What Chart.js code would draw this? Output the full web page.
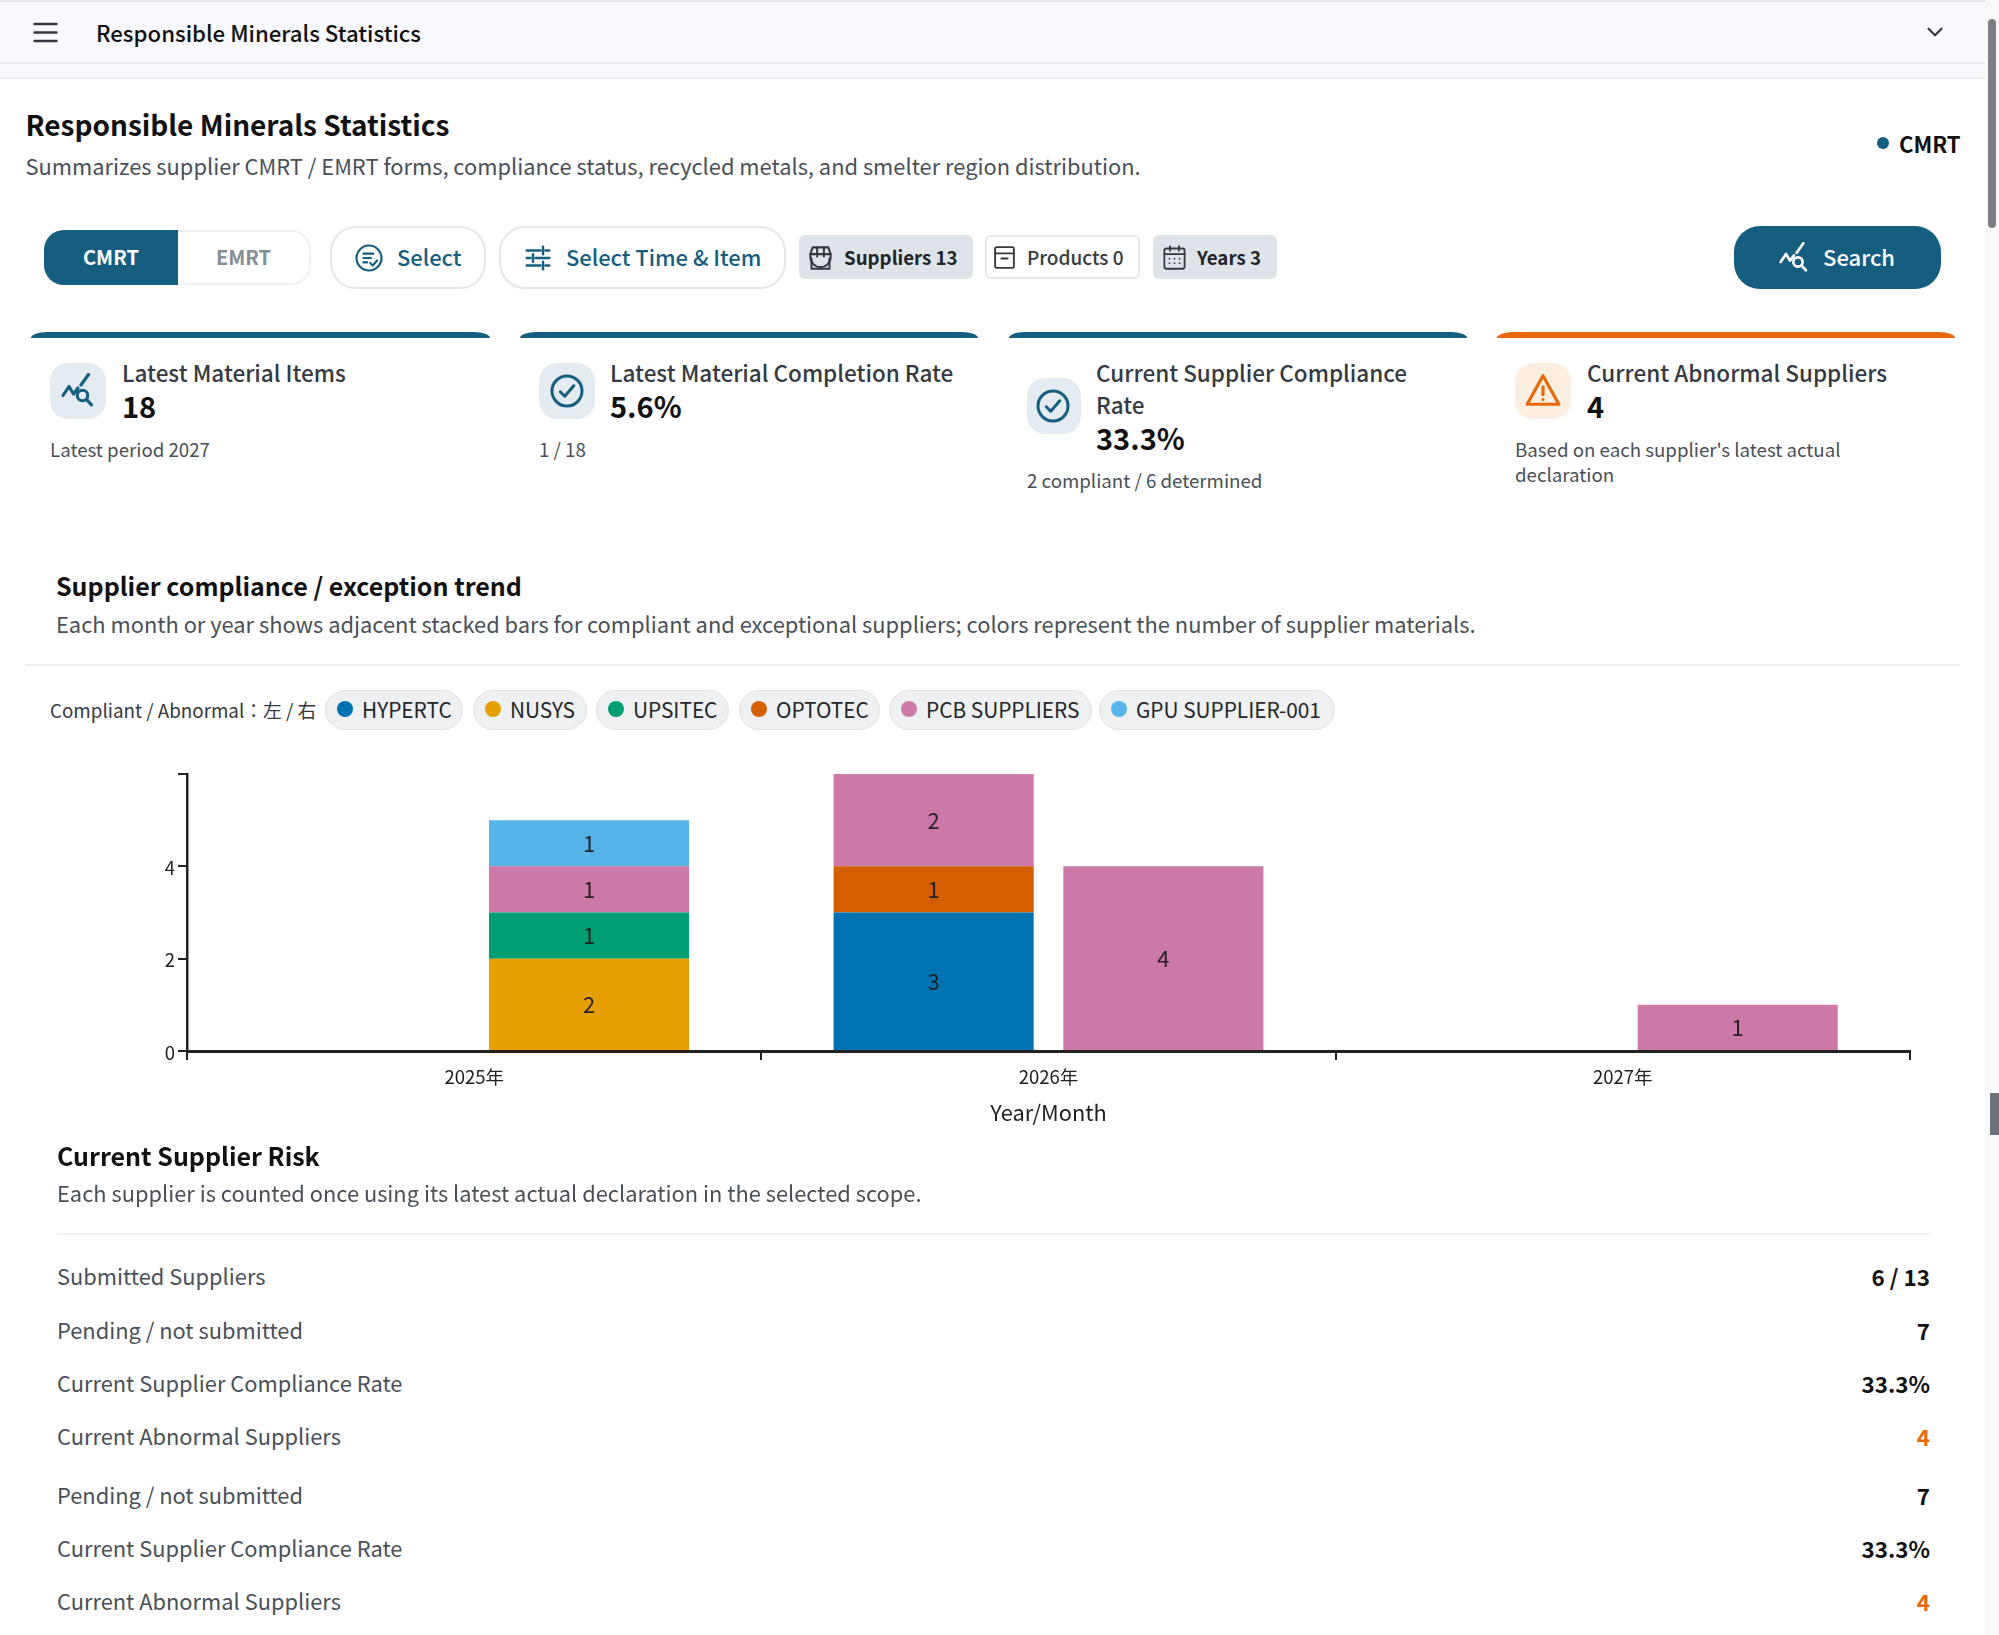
<!DOCTYPE html>
<html>
<head>
<meta charset="utf-8">
<title>Responsible Minerals Statistics</title>
<script src="https://cdn.jsdelivr.net/npm/chart.js@4"></script>
<style>
  html, body { margin: 0; padding: 0; background: #fff; overflow: hidden; }
  body { width: 1999px; height: 1635px; position: relative; font-family: "Noto Sans CJK TC", "Noto Sans", sans-serif; color: #212529; }
  .box { position: absolute; box-sizing: border-box; }
  .t { position: absolute; white-space: nowrap; line-height: 40px; height: 40px; }
  .ic { position: absolute; fill: none; stroke: currentColor; stroke-width: 2; stroke-linecap: round; stroke-linejoin: round; }
  #chartWrap { position: absolute; left: 0; top: 750px; width: 1985px; height: 390px; }
</style>
</head>
<body>
<div id="chartWrap"><canvas id="trend" width="1985" height="390"></canvas></div>
<script>
const years = ["2025年", "2026年", "2027年"];
const suppliers = ["HYPERTC", "NUSYS", "UPSITEC", "OPTOTEC", "PCB SUPPLIERS", "GPU SUPPLIER-001"];
const supplierColors = ["#0072B2", "#E69F00", "#009E73", "#D55E00", "#CC79A7", "#56B4E9"];

// per supplier, per year
const compliant = [
  [null, 3, null],
  [null, null, null],
  [null, null, null],
  [null, 1, null],
  [null, 2, null],
  [null, null, null]
];
const abnormal = [
  [null, null, null],
  [2, null, null],
  [1, null, null],
  [null, null, null],
  [1, 4, 1],
  [1, null, null]
];
const yTickValues = [0, 2, 4];

const riskLabels = ["Submitted Suppliers", "Pending / not submitted", "Current Supplier Compliance Rate", "Current Abnormal Suppliers",
  "Pending / not submitted", "Current Supplier Compliance Rate", "Current Abnormal Suppliers"];
const riskValues = ["6 / 13", "7", "33.3%", "4", "7", "33.3%", "4"];
const riskRowsY = [1276, 1329.5, 1382.5, 1435.5, 1494.5, 1548, 1601];

const TEAL = "#155e80";
const ORANGE = "#e8690b";
const BODY = 21.85;

function box(x, y, w, h, css) {
  const d = document.createElement("div");
  d.className = "box";
  d.style.cssText = `left:${x}px;top:${y}px;width:${w}px;height:${h}px;${css || ""}`;
  document.body.appendChild(d);
  return d;
}

// cy = vertical centre of the line
function text(x, cy, str, size, weight, color, align) {
  const d = document.createElement("div");
  d.className = "t";
  d.textContent = str;
  d.style.cssText = `top:${cy - 20}px;font-size:${size}px;font-weight:${weight};color:${color};`;
  if (align === "right") d.style.right = (1999 - x) + "px";
  else d.style.left = x + "px";
  document.body.appendChild(d);
}

function icon(cx, cy, size, color, body, sw) {
  const s = `<svg class="ic" style="left:${cx - size / 2}px;top:${cy - size / 2}px;color:${color};stroke-width:${sw || 2}" width="${size}" height="${size}" viewBox="0 0 24 24">${body}</svg>`;
  document.body.insertAdjacentHTML("beforeend", s);
}

const icons = {
  menu: '<path d="M3 5h18M3 12h18M3 19h18"/>',
  chevron: '<path d="M6 9l6 6 6-6"/>',
  chartSearch: '<path d="M2 15l4-6 3 5 3-4"/><path d="M14 8l5-7"/><circle cx="15" cy="15" r="3.5"/><path d="M17.6 17.6l3.4 3.6"/>',
  check: '<circle cx="12" cy="12" r="10"/><path d="M7.5 12.5l3 3 6-7"/>',
  warn: '<path d="M12 3L2 21h20z"/><path d="M12 10v5M12 18v.01"/>',
  select: '<circle cx="12" cy="12" r="10"/><path d="M7.5 8.5h8M7.5 12h6M7.5 15.5h3"/><path d="M13 16l2 2 3.5-4"/>',
  sliders: '<path d="M3 6h11M18 6h3M3 12h3M10 12h11M3 18h11M18 18h3"/><path d="M16 3v6M8 9v6M16 15v6"/>',
  store: '<path d="M3 9l2-6h14l2 6"/><path d="M3 9h18v2.5a3 3 0 0 1-18 0z"/><path d="M4 13v9h16v-9"/><path d="M9 3v8M15 3v8"/>',
  archive: '<rect x="3" y="2" width="18" height="20" rx="1.5"/><path d="M3 8h18"/><path d="M9 13h6"/>',
  calendar: '<rect x="3" y="4" width="18" height="18" rx="2"/><path d="M3 9h18M8 2v4M16 2v4"/><path d="M7.5 13v.01M12 13v.01M16.5 13v.01M7.5 17v.01M12 17v.01M16.5 17v.01"/>'
};

// header
box(0, 0, 1985, 64, "background:#f8f9fc;border-top:2px solid #e6e8eb;border-bottom:2px solid #e9ebee;");
box(0, 64, 1985, 15, "background:#f8f9fc;border-bottom:2px solid #eceef0;");
icon(45, 32.5, 29, "#343a40", icons.menu, 2.2);
text(96, 32, "Responsible Minerals Statistics", 22.2, 500, "#111");
icon(1935, 32, 26, "#343a40", icons.chevron, 2);

// page title
text(25.5, 124, "Responsible Minerals Statistics", 28, 600, "#111");
text(25.5, 166, "Summarizes supplier CMRT / EMRT forms, compliance status, recycled metals, and smelter region distribution.", BODY, 400, "#495057");
box(1877, 137, 12, 12, `background:${TEAL};border-radius:50%;`);
text(1899, 143, "CMRT", 22, 600, "#111");

// toolbar
box(44, 230, 267, 55, "background:#fff;border:2px solid #eef0f2;border-radius:20px;");
box(44, 230, 134, 55, `background:${TEAL};border-radius:20px 0 0 20px;`);
text(83, 257, "CMRT", 20, 600, "#fff");
text(216, 257, "EMRT", 20, 600, "#868e96");
box(330, 226, 156, 63, "background:#fff;border:2px solid #e5e7ea;border-radius:26px;");
icon(369, 257.5, 30, TEAL, icons.select, 1.7);
text(397, 257, "Select", 21.9, 500, TEAL);
box(499, 226, 287, 63, "background:#fff;border:2px solid #e5e7ea;border-radius:26px;");
icon(538, 257.5, 30, TEAL, icons.sliders, 2);
text(566, 257, "Select Time & Item", 21.9, 500, TEAL);
box(799, 235, 174, 44, "background:#dee4ea;border-radius:6px;");
icon(820, 257, 27, "#343a40", icons.store, 1.8);
text(844, 257, "Suppliers 13", 18.7, 600, "#212529");
box(985, 235, 155, 44, "background:#fff;border:2px solid #e5e7ea;border-radius:6px;");
icon(1004, 257.5, 25, "#343a40", icons.archive, 1.8);
text(1027, 257, "Products 0", 19, 500, "#343a40");
box(1153, 235, 124, 44, "background:#dee4ea;border-radius:6px;");
icon(1174, 257, 27, "#343a40", icons.calendar, 1.6);
text(1197, 257, "Years 3", 18.7, 600, "#212529");
box(1734, 226, 207, 63, `background:${TEAL};border-radius:26px;`);
icon(1794, 258, 32, "#fff", icons.chartSearch, 2);
text(1823, 256, "Search", 22, 500, "#fff");

// stat cards
const cardBars = [[30.5, 459, TEAL], [519.5, 458, TEAL], [1008.5, 458, TEAL], [1496.5, 458, ORANGE]];
cardBars.forEach(c => box(c[0], 332, c[1], 6, `background:${c[2]};border-radius:16px 16px 0 0 / 6px 6px 0 0;`));

box(50, 363, 56, 56, "background:#e4ecf1;border-radius:18px;");
icon(78, 391, 36, TEAL, icons.chartSearch, 2.1);
text(122, 372, "Latest Material Items", 22.5, 500, "#343a40");
text(122, 405, "18", 29, 700, "#111");
text(50, 449, "Latest period 2027", 18.7, 400, "#495057");

box(539, 363, 56, 56, "background:#e4ecf1;border-radius:18px;");
icon(567, 391, 36, TEAL, icons.check, 2);
text(610, 372, "Latest Material Completion Rate", 22.5, 500, "#343a40");
text(610, 405, "5.6%", 29, 700, "#111");
text(539, 449, "1 / 18", 18.7, 400, "#495057");

box(1027, 378, 54, 56, "background:#e4ecf1;border-radius:18px;");
icon(1053, 406, 36, TEAL, icons.check, 2);
text(1096, 372, "Current Supplier Compliance", 22.5, 500, "#343a40");
text(1096, 404, "Rate", 22.5, 500, "#343a40");
text(1096, 437, "33.3%", 29, 700, "#111");
text(1027, 480, "2 compliant / 6 determined", 18.7, 400, "#495057");

box(1515, 363, 56, 56, "background:#fdeee2;border-radius:18px;");
icon(1543, 390, 38, ORANGE, icons.warn, 2);
text(1587, 372, "Current Abnormal Suppliers", 22.5, 500, "#343a40");
text(1587, 405, "4", 29, 700, "#111");
text(1515, 449, "Based on each supplier's latest actual", 18.7, 400, "#495057");
text(1515, 474, "declaration", 18.7, 400, "#495057");

// trend section
text(56, 585, "Supplier compliance / exception trend", 25, 600, "#111");
text(56, 623.5, "Each month or year shows adjacent stacked bars for compliant and exceptional suppliers; colors represent the number of supplier materials.", BODY, 400, "#495057");
box(25, 664, 1935, 2, "background:#eef0f2;");
text(50, 710, "Compliant / Abnormal：左 / 右", 18.8, 400, "#343a40");

const pillX = [325, 473, 596, 739, 889, 1099];
const pillW = [138, 114, 133, 141, 203, 236];
suppliers.forEach((name, i) => {
  box(pillX[i], 690, pillW[i], 39.5, "background:#eef0f1;border:1.5px solid #e0e2e4;border-radius:20px;");
  box(pillX[i] + 12, 701, 16, 16, `background:${supplierColors[i]};border-radius:50%;`);
  text(pillX[i] + 37, 708.5, name, 20.8, 400, "#212529");
});

// risk section
text(57, 1155, "Current Supplier Risk", 25, 600, "#111");
text(57, 1192.5, "Each supplier is counted once using its latest actual declaration in the selected scope.", BODY, 400, "#495057");
box(57, 1233, 1873, 2, "background:#eef0f2;");
riskLabels.forEach((label, i) => {
  text(57, riskRowsY[i], label, BODY, 400, "#495057");
  text(1930, riskRowsY[i], riskValues[i], 22.4, 700, label === "Current Abnormal Suppliers" ? ORANGE : "#111", "right");
});

// scrollbar
box(1985, 0, 14, 1635, "background:#f8f9fa;");
box(1988, 19, 8, 209, "background:#7b7f83;border-radius:4px;");
box(1990, 1093, 9, 42, "background:#6d7479;");

// value in the middle of each bar segment
const barLabels = {
  id: "barLabels",
  afterDatasetsDraw(chart) {
    const ctx = chart.ctx;
    ctx.save();
    ctx.font = '22px "Noto Sans CJK TC"';
    ctx.fillStyle = "#222";
    ctx.textAlign = "center";
    ctx.textBaseline = "middle";
    chart.data.datasets.forEach((ds, i) => {
      chart.getDatasetMeta(i).data.forEach((bar, j) => {
        if (ds.data[j] == null) return;
        ctx.fillText(ds.data[j], bar.x, (bar.y + bar.base) / 2 + 0.5);
      });
    });
    ctx.restore();
  }
};

const datasets = [];
suppliers.forEach((name, i) => {
  datasets.push({ label: name + " compliant", data: compliant[i], stack: "compliant", backgroundColor: supplierColors[i] });
});
suppliers.forEach((name, i) => {
  datasets.push({ label: name + " abnormal", data: abnormal[i], stack: "abnormal", backgroundColor: supplierColors[i] });
});
datasets.forEach(d => {
  d.categoryPercentage = 0.8;
  d.barPercentage = 0.871;
});

Chart.defaults.font.family = '"Noto Sans CJK TC", sans-serif';
new Chart(document.getElementById("trend"), {
  type: "bar",
  data: { labels: years, datasets: datasets },
  plugins: [barLabels],
  options: {
    responsive: false,
    animation: false,
    devicePixelRatio: 1,
    layout: { padding: { top: 24, right: 75, left: 0, bottom: 0 } },
    plugins: { legend: { display: false }, tooltip: { enabled: false } },
    scales: {
      x: {
        stacked: true,
        grid: { drawOnChartArea: false, color: "#222", lineWidth: 2, tickLength: 9 },
        border: { display: true, color: "#222", width: 3 },
        ticks: { color: "#222", font: { size: 18.5 }, padding: 6 },
        title: { display: true, text: "Year/Month", color: "#222", font: { size: 21.8 }, padding: { top: 4, bottom: 14 } },
        afterFit: s => { s.height = 89; }
      },
      y: {
        stacked: true,
        min: 0,
        max: 6,
        grid: { drawOnChartArea: false, color: "#222", lineWidth: 2, tickLength: 9 },
        border: { display: true, color: "#222", width: 2.5 },
        ticks: {
          stepSize: 2,
          color: "#222",
          font: { size: 18.5 },
          padding: 3,
          labelOffset: 1.5,
          callback: v => yTickValues.includes(v) ? v : ""
        },
        afterFit: s => { s.width = 187; }
      }
    }
  }
});
</script>
</body>
</html>
